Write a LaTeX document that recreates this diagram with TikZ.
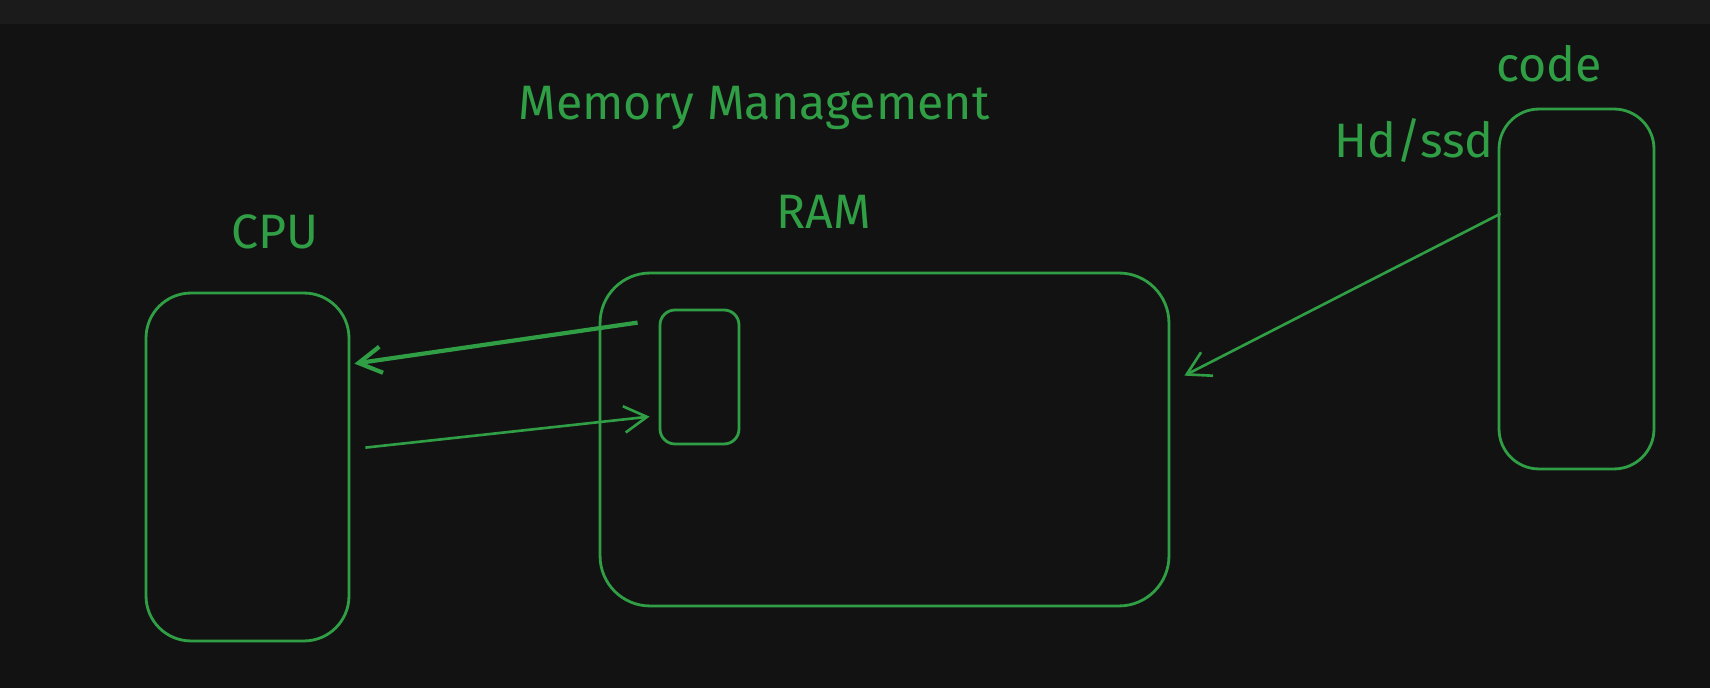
\documentclass[tikz,border=0pt]{standalone}
\usepackage{fontspec}
\setmainfont{Fira Sans}
\usetikzlibrary{arrows.meta, positioning, calc}
\definecolor{fondo}{HTML}{121212}
\definecolor{barra}{HTML}{1B1B1B}
\definecolor{verde}{HTML}{2F9E44}

\begin{document}
\begin{tikzpicture}[
      x=0.02cm, y=-0.02cm,
      font=\fontsize{27.5}{32}\selectfont,
      label/.style={text=verde, anchor=base, inner sep=0pt},
      caja/.style={draw=verde, line width=1.6pt, inner sep=0pt},
      arrow/.style={-{Straight Barb[length=13pt, width=15pt]}, draw=verde, line width=1.5pt} ]

    \fill[fondo] (0,0) rectangle (1710,688);
    \fill[barra] (0,0) rectangle (1710,24);
    \useasboundingbox (0,0) rectangle (1710,688);

    \node[label] (titulo) at (754,120) {Memory Management};

    \node[caja, minimum width=4.06cm, minimum height=6.96cm,
          rounded corners=0.9cm] (cpu) at (247.5,467) {};
    \node[label] (lcpu) at (275,249) {CPU};

    \node[caja, minimum width=11.38cm, minimum height=6.66cm,
          rounded corners=1cm] (ram) at (884.5,439.5) {};
    \node[label] (lram) at (824,229) {RAM};
    \node[caja, minimum width=1.58cm, minimum height=2.68cm,
          rounded corners=0.3cm] (celda) at (699.5,377) {};

    \node[caja, minimum width=3.1cm, minimum height=7.2cm,
          rounded corners=0.8cm] (code) at (1576.5,289) {};
    \node[label] (lcode) at (1549,82) {code};
    \node[label] (lhd) at (1414,158) {Hd/ssd};

    \draw[arrow, line width=2.4pt] ($(celda.north west)+(-21,14)$) -- ($(cpu.north east)+(4,72)$);
    \draw[arrow] ($(cpu.north east)+(15,156)$) -- ($(celda.north west)+(-9,108)$);
    \draw[arrow] ($(code.north west)+(3,106)$) -- ($(ram.north east)+(14,104)$);
  \end{tikzpicture}
\end{document}
